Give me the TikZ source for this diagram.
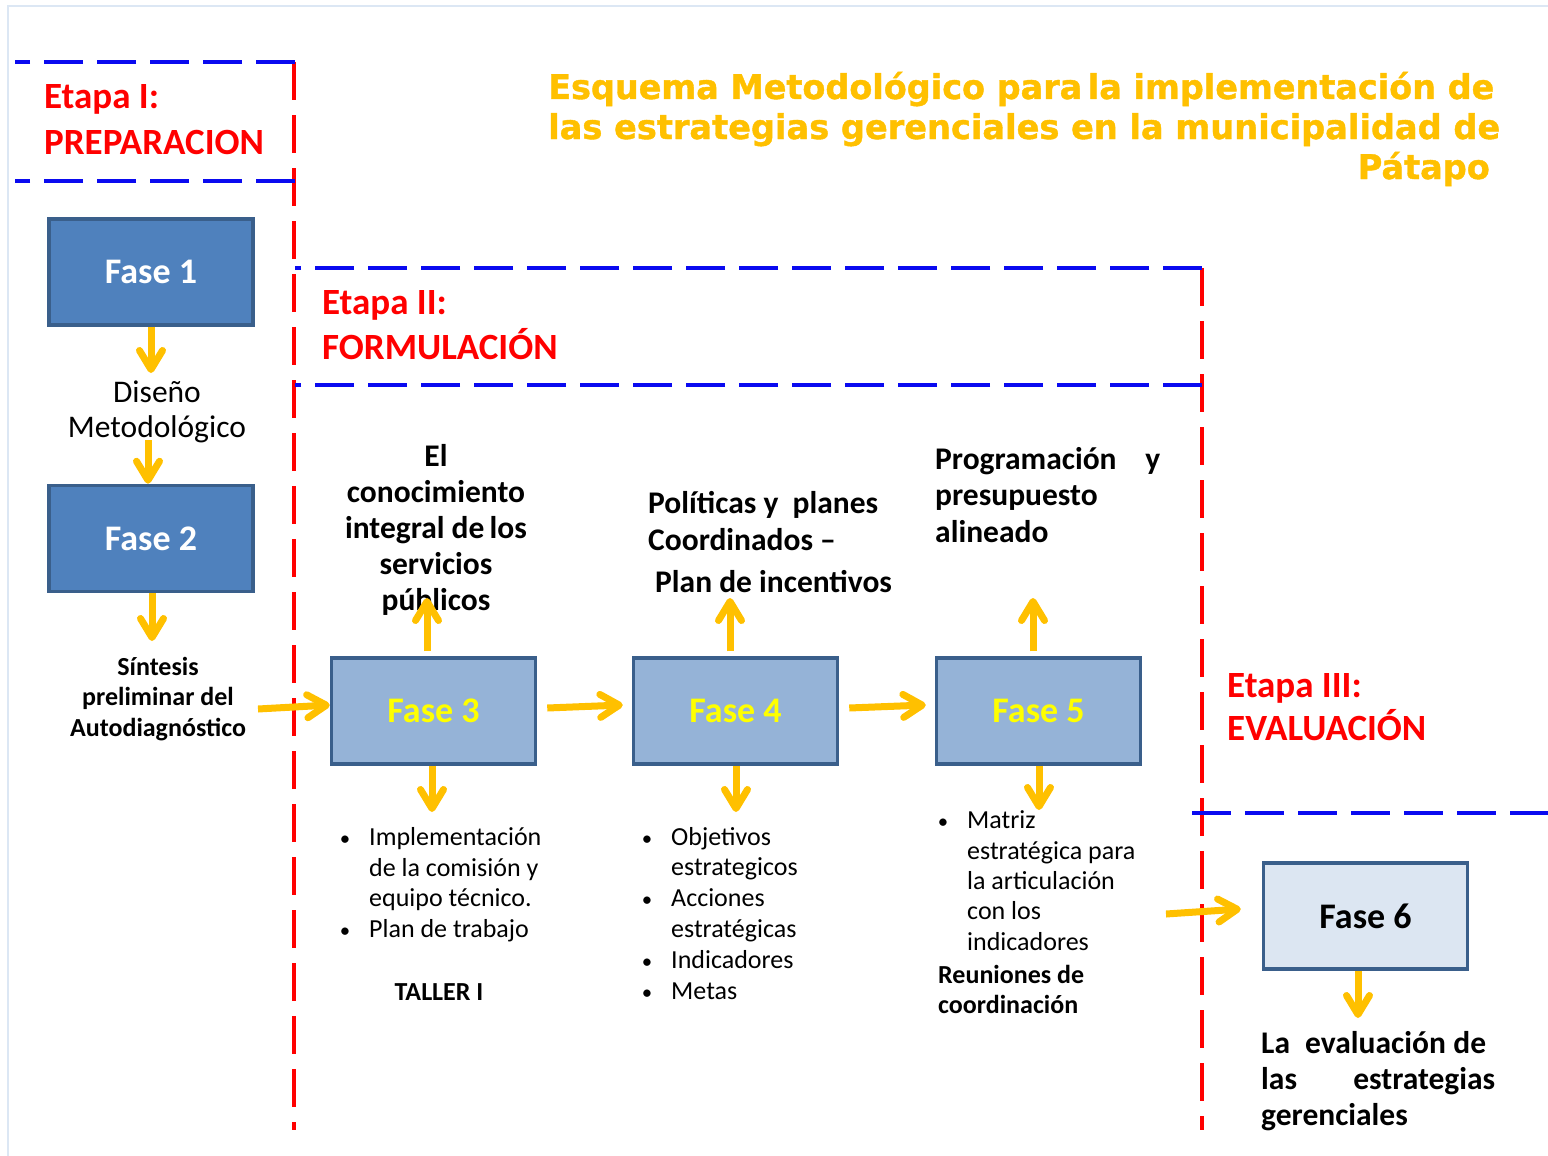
\documentclass[tikz,border=0pt]{standalone}
\usepackage{fontspec}
\usepackage{graphicx}
\setmainfont{Carlito}
\newfontfamily\headfont{DejaVu Sans}[FakeBold=1.2]
\usetikzlibrary{arrows.meta}
\definecolor{dashblue}{HTML}{0A0AF0}
\definecolor{stagered}{HTML}{FF0000}
\definecolor{arrowgold}{HTML}{FFC000}
\definecolor{titlegold}{HTML}{FFC000}
\definecolor{darkfase}{HTML}{4F81BD}
\definecolor{midfase}{HTML}{95B3D7}
\definecolor{lightfase}{HTML}{DCE6F2}
\definecolor{faseborder}{HTML}{3A5F8B}
\definecolor{fasetext}{HTML}{FFFF00}
\definecolor{pageedge}{HTML}{DCE7F4}
\newcommand\bul{\llap{\scalebox{0.8}{•}\hspace{19pt}}}
\begin{document}
\begin{tikzpicture}[x=1pt,y=-1pt,
  bluedash/.style={draw=dashblue,line width=4pt,dash pattern=on 39pt off 14pt},
  reddash/.style={draw=stagered,line width=4pt,dash pattern=on 38pt off 15pt},
  stagelabel/.style={text=stagered,anchor=base west,align=left,inner sep=0pt},
  fasebox/.style={draw=faseborder,line width=3.5pt,minimum width=204pt,minimum height=106pt,
    inner sep=0pt,font=\bfseries\fontsize{36}{40}\selectfont},
  fasedark/.style={fasebox,fill=darkfase,text=white},
  fasemid/.style={fasebox,fill=midfase,text=fasetext},
  faselight/.style={fasebox,fill=lightfase,text=black},
  flow/.style={draw=arrowgold,line width=7pt,-{Straight Barb[length=19pt,width=23pt,round]}},
  titleline/.style={text=titlegold,inner sep=0pt,font=\headfont\bfseries\fontsize{34}{38}\selectfont},
  textbox/.style={inner sep=0pt,align=left,anchor=base west},
]
\useasboundingbox (0,0) rectangle (1548,1156);

% page edge
\draw[pageedge,line width=1.5pt] (8,1156) -- (8,6) -- (1548,6);

% stage frames
\draw[reddash] (294,62) -- (294,1130);
\draw[reddash] (1202,268) -- (1202,1130);
\draw[bluedash] (295,62) -- (15,62);
\draw[bluedash] (295,181) -- (15,181);
\draw[bluedash] (1202,268) -- (295,268);
\draw[bluedash] (1202,385) -- (295,385);
\draw[bluedash] (1192,813) -- (1548,813);

% stage labels (anchored at the baseline of their last line)
\node[stagelabel,font=\bfseries\fontsize{37}{46}\selectfont] (etapa1) at (44,154) {Etapa I:\\PREPARACION};
\node[stagelabel,font=\bfseries\fontsize{37}{45}\selectfont] (etapa2) at (322,359) {Etapa II:\\FORMULACIÓN};
\node[stagelabel,font=\bfseries\fontsize{37}{43}\selectfont] (etapa3) at (1227,740) {Etapa III:\\EVALUACIÓN};

% title
\node[titleline,anchor=base west] (title1) at (548,99)
  {\resizebox{946pt}{\height}{Esquema Metodológico para\,la implementación de}};
\node[titleline,anchor=base west] (title2) at (548,139)
  {\resizebox{952pt}{\height}{las estrategias gerenciales en la municipalidad de}};
\node[titleline,anchor=base east] (title3) at (1490,179)
  {\resizebox{132pt}{\height}{Pátapo}};

% phase boxes
\node[fasedark] (f1) at (151,272) {Fase 1};
\node[fasedark] (f2) at (151,538.5) {Fase 2};
\node[fasemid] (f3) at (433.5,711) {Fase 3};
\node[fasemid] (f4) at (735.5,711) {Fase 4};
\node[fasemid] (f5) at (1038.5,711) {Fase 5};
\node[faselight] (f6) at (1365.5,916) {Fase 6};

% texts (multi-line nodes anchored at the baseline of their last line)
\node[inner sep=0pt,align=center,anchor=base,font=\fontsize{31.5}{35}\selectfont] (dis) at (157,437)
  {Diseño\\Metodológico};
\node[inner sep=0pt,align=center,anchor=base,font=\bfseries\fontsize{26}{30.5}\selectfont] (sint) at (158,736)
  {Síntesis\\preliminar del\\Autodiagnóstico};
\node[inner sep=0pt,align=center,anchor=base,font=\bfseries\fontsize{31.5}{36}\selectfont] (know) at (436,610)
  {El\\conocimiento\\integral de\,los\\servicios\\públicos};
\node[textbox,font=\bfseries\fontsize{31.5}{37}\selectfont] (pol) at (648,592)
  {Políticas y\ \ planes\\Coordinados –\\[5pt]\hspace{7pt}Plan de incentivos};
\node[textbox,font=\bfseries\fontsize{31.5}{36.5}\selectfont] (prog) at (935,542)
  {\makebox[225pt][l]{Programación\hfill y}\\presupuesto\\alineado};
\node[textbox,font=\fontsize{26}{30.4}\selectfont] (l3) at (369,937)
  {\bul Implementación\\de la comisión y\\equipo técnico.\\\bul Plan de trabajo};
\node[inner sep=0pt,anchor=base,font=\bfseries\fontsize{26}{30}\selectfont] (taller) at (439,1000) {TALLER I};
\node[textbox,font=\fontsize{26}{30.8}\selectfont] (l4) at (671,999)
  {\bul Objetivos\\estrategicos\\\bul Acciones\\estratégicas\\\bul Indicadores\\\bul Metas};
\node[textbox,font=\fontsize{26}{30.3}\selectfont] (l5) at (967,950)
  {\bul Matriz\\estratégica para\\la articulación\\con los\\indicadores};
\node[textbox,font=\bfseries\fontsize{26}{30}\selectfont] (reun) at (938,1013)
  {Reuniones de\\coordinación};
\node[textbox,font=\bfseries\fontsize{31.5}{35.6}\selectfont] (evalt) at (1261,1125)
  {\makebox[225pt][s]{La\ \ evaluación de}\\\makebox[234pt][s]{las estrategias}\\gerenciales};

% connector ends
\coordinate (t1) at (151,373);
\coordinate (s2) at (148,440);
\coordinate (t3) at (152,641);
\coordinate (s4) at (258,709);
\coordinate (u3) at (427,598);
\coordinate (u4) at (730,598);
\coordinate (u5) at (1033,598);
\coordinate (d3) at (432,812);
\coordinate (d4) at (736,812);
\coordinate (d5) at (1039,810);
\coordinate (s13) at (1166,914);
\coordinate (d6) at (1358,1018);

% connectors
\draw[flow] (f1.south) -- (f1.south |- t1);
\draw[flow] (s2) -- (s2 |- f2.north);
\draw[flow] ([xshift=1pt]f2.south) -- ([xshift=1pt]f2.south |- t3);
\draw[flow] (s4) -- ([yshift=6pt]f3.west);
\draw[flow] ([xshift=10pt,yshift=3pt]f3.east) -- ([xshift=-9pt,yshift=6pt]f4.west);
\draw[flow] ([xshift=10pt,yshift=3pt]f4.east) -- ([xshift=-9pt,yshift=6pt]f5.west);
\draw[flow] (u3 |- f3.north) ++(0,-5) -- (u3);
\draw[flow] (u4 |- f4.north) ++(0,-5) -- (u4);
\draw[flow] (u5 |- f5.north) ++(0,-5) -- (u5);
\draw[flow] (d3 |- f3.south) -- (d3);
\draw[flow] (d4 |- f4.south) -- (d4);
\draw[flow] (d5 |- f5.south) -- (d5);
\draw[flow] (s13) -- ([xshift=-21pt,yshift=7pt]f6.west);
\draw[flow] (d6 |- f6.south) -- (d6);
\end{tikzpicture}
\end{document}
